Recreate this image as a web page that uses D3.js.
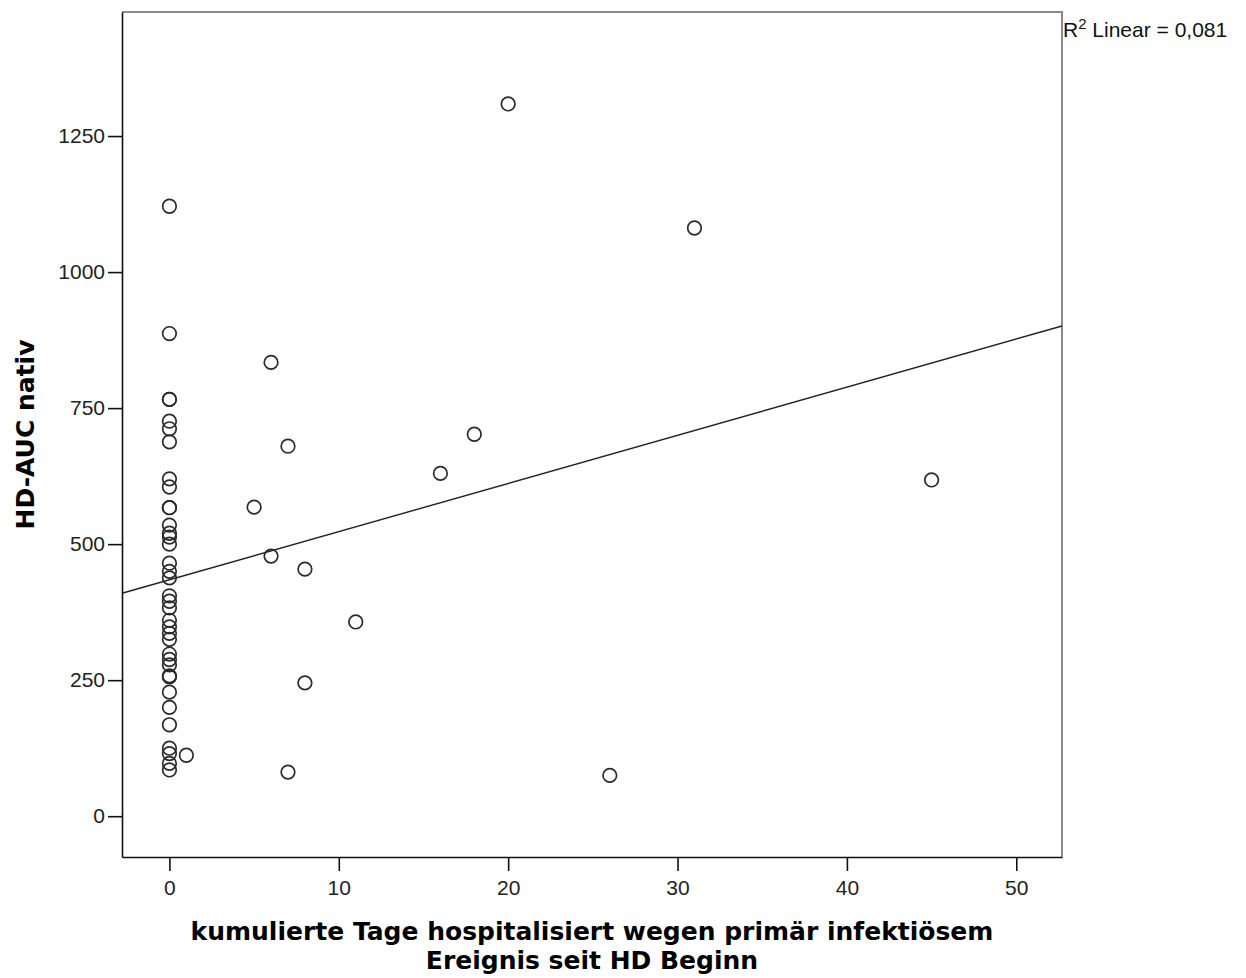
<!DOCTYPE html>
<html>
<head>
<meta charset="utf-8">
<script src="https://cdn.jsdelivr.net/npm/d3@7"></script>
<style>
  body { margin: 0; background: #fff; }
</style>
</head>
<body>
<div id="plot"></div>
<script>
// data: days (x) and HD-AUC (y)
var zeroDayAUC = [1121, 887, 766, 766, 726, 712, 688, 620, 605, 567, 567, 535, 520, 513, 500,
                  465, 450, 438, 405, 395, 383, 360, 348, 336, 325, 298, 288, 278, 258, 256,
                  228, 200, 168, 125, 115, 97, 85];
var otherDays = [1, 5, 6, 6, 7, 7, 8, 8, 11, 16, 18, 20, 26, 31, 45];
var otherAUC  = [112, 568, 834, 478, 680, 81, 454, 245, 357, 630, 702, 1309, 75, 1081, 618];

var xTicks = [0, 10, 20, 30, 40, 50];
var yTicks = [0, 250, 500, 750, 1000, 1250];
var xDomain = [-2.8, 52.7];
var yDomain = [-75, 1478];

// fit line shown in the chart
var fitIntercept = 434.5,
    fitSlope     = 8.85,
    rsqText      = "0,081";

var xTitle = ["kumulierte Tage hospitalisiert wegen primär infektiösem", "Ereignis seit HD Beginn"];
var yTitle = "HD-AUC nativ";

var points = zeroDayAUC.map(function(v) { return {x: 0, y: v}; })
    .concat(otherDays.map(function(d, i) { return {x: d, y: otherAUC[i]}; }));

var outerWidth = 1246, outerHeight = 978;
var frame = {left: 122, top: 12, right: 1062, bottom: 857};

var svg = d3.select("#plot").append("svg")
    .attr("width", outerWidth)
    .attr("height", outerHeight);

svg.append("rect").attr("width", outerWidth).attr("height", outerHeight).attr("fill", "#fff");

var Xscale = d3.scaleLinear().domain(xDomain).range([frame.left, frame.right]);
var Yscale = d3.scaleLinear().domain(yDomain).range([frame.bottom, frame.top]);

// gray top / right border
svg.append("path")
    .attr("d", "M" + frame.left + "," + frame.top + "H" + frame.right + "V" + frame.bottom)
    .attr("fill", "none")
    .attr("stroke", "#8a8a8a")
    .attr("stroke-width", 2);

// X axis
var axisX = svg.append("g")
    .attr("transform", "translate(0," + frame.bottom + ")")
    .call(d3.axisBottom(Xscale).tickValues(xTicks).tickFormat(d3.format("d"))
        .tickSize(14).tickSizeOuter(0).tickPadding(9));
axisX.selectAll("text")
    .style("font-family", "'Liberation Sans', Arial, sans-serif")
    .style("font-size", "21px")
    .attr("fill", "#222");

// Y axis
var axisY = svg.append("g")
    .attr("transform", "translate(" + frame.left + ",0)")
    .call(d3.axisLeft(Yscale).tickValues(yTicks).tickFormat(d3.format("d"))
        .tickSize(14).tickSizeOuter(0).tickPadding(3));
axisY.selectAll("text")
    .style("font-family", "'Liberation Sans', Arial, sans-serif")
    .style("font-size", "21px")
    .attr("fill", "#222");

svg.selectAll(".domain, .tick line")
    .attr("stroke", "#111")
    .attr("stroke-width", 1.6);

// regression line
var fitLine = d3.line()
    .x(function(d) { return Xscale(d); })
    .y(function(d) { return Yscale(fitIntercept + fitSlope * d); });

svg.append("path")
    .datum(xDomain)
    .attr("fill", "none")
    .attr("stroke", "#222")
    .attr("stroke-width", 1.4)
    .attr("d", fitLine);

// circles
svg.selectAll("circle.pt")
    .data(points)
    .enter().append("circle")
    .attr("class", "pt")
    .attr("cx", function(d) { return Xscale(d.x); })
    .attr("cy", function(d) { return Yscale(d.y); })
    .attr("r", 6.8)
    .attr("fill", "none")
    .attr("stroke", "#2a2a2a")
    .attr("stroke-width", 1.7);

// R2 annotation
var rsq = svg.append("text")
    .attr("x", frame.right + 1)
    .attr("y", 37)
    .style("font-family", "'Liberation Sans', Arial, sans-serif")
    .style("font-size", "21px")
    .attr("fill", "#111");
rsq.append("tspan").text("R");
rsq.append("tspan").attr("dy", -8).style("font-size", "15px").text("2");
rsq.append("tspan").attr("dy", 8).text(" Linear = " + rsqText);

// axis titles
var titleFont = "'DejaVu Sans', sans-serif";
svg.append("text")
    .attr("x", (frame.left + frame.right) / 2)
    .attr("y", 940)
    .attr("text-anchor", "middle")
    .style("font-family", titleFont)
    .style("font-weight", "bold")
    .style("font-size", "25px")
    .attr("fill", "#000")
    .text(xTitle[0]);
svg.append("text")
    .attr("x", (frame.left + frame.right) / 2)
    .attr("y", 969)
    .attr("text-anchor", "middle")
    .style("font-family", titleFont)
    .style("font-weight", "bold")
    .style("font-size", "25px")
    .attr("fill", "#000")
    .text(xTitle[1]);

svg.append("text")
    .attr("transform", "translate(34," + (frame.top + frame.bottom) / 2 + ") rotate(-90)")
    .attr("text-anchor", "middle")
    .style("font-family", titleFont)
    .style("font-weight", "bold")
    .style("font-size", "25px")
    .attr("fill", "#000")
    .text(yTitle);
</script>
</body>
</html>
